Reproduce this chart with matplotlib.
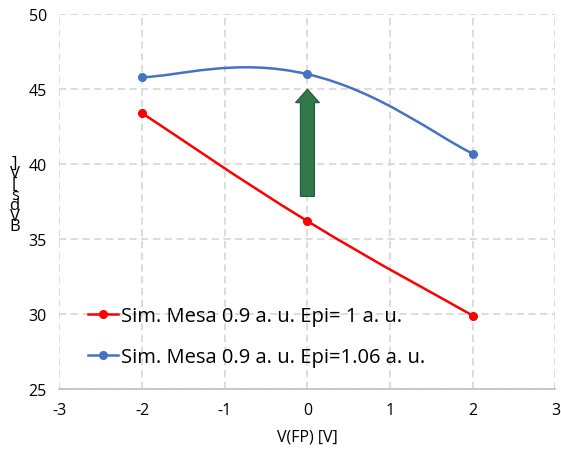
import numpy as np
import matplotlib.pyplot as plt
import matplotlib.patches as mpatches
from matplotlib.path import Path

plt.rcParams['font.family'] = ['Open Sans', 'DejaVu Sans']
plt.rcParams['axes.unicode_minus'] = False

# data
v_fp = [-2, 0, 2]
bv_epi1 = [43.4, 36.2, 29.9]
bv_epi106 = [45.8, 46.0, 40.7]
labels = ['Sim. Mesa 0.9 a. u. Epi= 1 a. u.', 'Sim. Mesa 0.9 a. u. Epi=1.06 a. u.']
colors = ['#FF0000', '#4472C4']


def smooth_path(xs, ys, t=0.22):
    # excel-like smoothed line: cubic bezier through the points
    pts = np.column_stack([xs, ys]).astype(float)
    n = len(pts)
    verts = [pts[0]]
    codes = [Path.MOVETO]
    for i in range(n - 1):
        p0 = pts[i - 1] if i > 0 else pts[i]
        p1, p2 = pts[i], pts[i + 1]
        p3 = pts[i + 2] if i + 2 < n else pts[i + 1]
        verts += [p1 + (p2 - p0) * t, p2 - (p3 - p1) * t, p2]
        codes += [Path.CURVE4] * 3
    return Path(verts, codes)


fig, ax = plt.subplots(figsize=(5.61, 4.6), dpi=100)
fig.subplots_adjust(left=0.106, right=0.99, top=0.967, bottom=0.152)

for ys, c, lab in zip([bv_epi1, bv_epi106], colors, labels):
    ax.add_patch(mpatches.PathPatch(smooth_path(v_fp, ys), fc='none', ec=c, lw=1.8, zorder=3))
    ax.plot(v_fp, ys, 'o', color=c, ms=5.5, zorder=4)
    ax.plot([], [], '-o', color=c, lw=1.8, ms=5.5, label=lab)

# green arrow
ax.add_patch(mpatches.FancyArrow(0, 37.85, 0, 7.15, width=0.17, head_width=0.29,
                                  head_length=0.9, length_includes_head=True,
                                  fc='#31784B', ec='#1E5A35', lw=0.8, zorder=5))

ax.set_xlim(-3, 3)
ax.set_ylim(25, 50)
ax.set_xticks(range(-3, 4))
ax.set_yticks(range(25, 51, 5))
ax.grid(color='#D9D9D9', linestyle=(0, (4, 2.5)), lw=1.3)
for s in ['top', 'right', 'left']:
    ax.spines[s].set_visible(False)
ax.spines['bottom'].set_color('#BFBFBF')
ax.spines['bottom'].set_linewidth(1.2)
ax.tick_params(length=0, labelsize=11.5, pad=9)
ax.set_xlabel('V(FP) [V]', fontsize=11.5, labelpad=8)

# garbled stacked y label as in the original
fig.text(0.026, 0.575, ']\nV\n[\ns\nd\nV\nB', fontsize=12, ha='center', va='center',
         linespacing=0.55)

ax.legend(loc='lower left', bbox_to_anchor=(0.013, 0.0), frameon=False, fontsize=14.5,
          handlelength=1.5, handletextpad=0.15, labelspacing=1.05,
          borderaxespad=0.7)

plt.savefig('out.png', dpi=100)
